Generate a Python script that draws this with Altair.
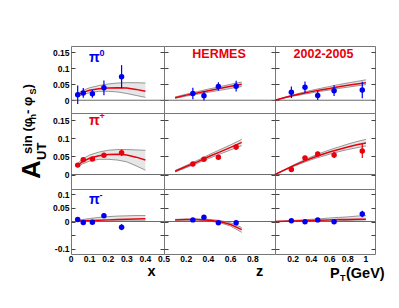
import altair as alt
import pandas as pd

RED = "#e8000c"
BLUE = "#0000f0"
BAND = "#e6e6e6"
EDGE = "#8a8a8a"
FRAME = "#777777"
ZERO = "#6a6a6a"
TICK = "#444444"
FONT = "Liberation Sans"

# ---- kinematic bins (bin centres) ----
X_BINS = [0.036, 0.066, 0.115, 0.177, 0.272]
Z_BINS = [0.26, 0.36, 0.49, 0.65]
PT_BINS = [0.18, 0.33, 0.47, 0.65, 0.96]

# ---- measured asymmetries and errors ----
PI0_X = [0.017, 0.023, 0.020, 0.039, 0.074]
PI0_X_ERR = [0.029, 0.015, 0.012, 0.023, 0.036]
PI0_Z = [0.021, 0.014, 0.043, 0.044]
PI0_Z_ERR = [0.018, 0.015, 0.013, 0.017]
PI0_PT = [0.025, 0.041, 0.015, 0.030, 0.032]
PI0_PT_ERR = [0.018, 0.018, 0.014, 0.017, 0.026]

PIP_X = [0.026, 0.041, 0.043, 0.053, 0.060]
PIP_X_ERR = [0.005, 0.005, 0.005, 0.006, 0.009]
PIP_Z = [0.029, 0.0425, 0.048, 0.076]
PIP_Z_ERR = [0.004, 0.005, 0.006, 0.008]
PIP_PT = [0.014, 0.046, 0.057, 0.054, 0.065]
PIP_PT_ERR = [0.005, 0.005, 0.006, 0.008, 0.019]

PIM_X = [0.007, -0.004, -0.003, 0.021, -0.021]
PIM_X_ERR = [0.006, 0.006, 0.006, 0.008, 0.011]
PIM_Z = [0.006, 0.016, -0.005, -0.005]
PIM_Z_ERR = [0.005, 0.006, 0.007, 0.009]
PIM_PT = [0.003, -0.001, 0.006, -0.001, 0.028]
PIM_PT_ERR = [0.005, 0.005, 0.006, 0.007, 0.012]

# ---- model curves (central value and band) ----
X_GRID = [0.035, 0.06, 0.1, 0.15, 0.2, 0.25, 0.3, 0.35, 0.4]
PI0_X_MID = [0.016, 0.024, 0.031, 0.036, 0.038, 0.039, 0.038, 0.034, 0.028]
PI0_X_HI = [0.021, 0.030, 0.039, 0.046, 0.051, 0.054, 0.055, 0.055, 0.054]
PI0_X_LO = [0.011, 0.017, 0.024, 0.028, 0.028, 0.026, 0.021, 0.015, 0.009]
PIP_X_MID = [0.025, 0.035, 0.045, 0.052, 0.055, 0.056, 0.054, 0.048, 0.040]
PIP_X_HI = [0.030, 0.042, 0.054, 0.062, 0.067, 0.069, 0.069, 0.068, 0.067]
PIP_X_LO = [0.020, 0.029, 0.037, 0.042, 0.042, 0.040, 0.035, 0.024, 0.012]
PIM_X_MID = [0.002, 0.003, 0.004, 0.005, 0.006, 0.007, 0.008, 0.009, 0.010]
PIM_X_HI = [0.004, 0.007, 0.011, 0.015, 0.018, 0.020, 0.021, 0.022, 0.022]
PIM_X_LO = [0.000, 0.001, 0.002, 0.002, 0.002, 0.002, 0.002, 0.002, 0.002]

Z_GRID = [0.1, 0.2, 0.3, 0.4, 0.5, 0.6, 0.7]
PI0_Z_MID = [0.008, 0.016, 0.023, 0.030, 0.037, 0.044, 0.050]
PI0_Z_HI = [0.010, 0.019, 0.027, 0.035, 0.042, 0.050, 0.057]
PI0_Z_LO = [0.006, 0.013, 0.019, 0.025, 0.031, 0.037, 0.043]
PIP_Z_MID = [0.009, 0.022, 0.035, 0.049, 0.062, 0.075, 0.089]
PIP_Z_HI = [0.011, 0.025, 0.039, 0.054, 0.068, 0.082, 0.097]
PIP_Z_LO = [0.007, 0.019, 0.031, 0.044, 0.056, 0.068, 0.080]
PIM_Z_MID = [0.006, 0.007, 0.007, 0.005, 0.000, -0.011, -0.030]
PIM_Z_HI = [0.008, 0.009, 0.009, 0.008, 0.004, -0.005, -0.022]
PIM_Z_LO = [0.004, 0.005, 0.005, 0.002, -0.004, -0.017, -0.040]

PT_GRID = [0.0, 0.1, 0.2, 0.3, 0.4, 0.5, 0.6, 0.7, 0.8, 0.9, 1.0]
PI0_PT_MID = [0.000, 0.008, 0.015, 0.021, 0.027, 0.032, 0.037, 0.042, 0.047, 0.051, 0.055]
PI0_PT_HI = [0.000, 0.009, 0.017, 0.024, 0.031, 0.037, 0.043, 0.049, 0.054, 0.059, 0.064]
PI0_PT_LO = [0.000, 0.007, 0.013, 0.018, 0.023, 0.028, 0.032, 0.037, 0.041, 0.045, 0.049]
PIP_PT_MID = [0.000, 0.012, 0.024, 0.035, 0.045, 0.054, 0.062, 0.069, 0.076, 0.082, 0.087]
PIP_PT_HI = [0.000, 0.013, 0.026, 0.038, 0.049, 0.059, 0.068, 0.076, 0.084, 0.091, 0.097]
PIP_PT_LO = [0.000, 0.011, 0.022, 0.032, 0.041, 0.049, 0.056, 0.063, 0.069, 0.074, 0.079]
PIM_PT_MID = [0.000, 0.001, 0.002, 0.003, 0.004, 0.005, 0.006, 0.007, 0.0075, 0.008, 0.0085]
PIM_PT_HI = [0.000, 0.002, 0.004, 0.006, 0.008, 0.010, 0.013, 0.015, 0.017, 0.020, 0.022]
PIM_PT_LO = [0.000, 0.000, 0.001, 0.001, 0.002, 0.002, 0.003, 0.003, 0.004, 0.005, 0.006]

# ---- axis ticks and tick labels ----
X_TICKS = [0, 0.1, 0.2, 0.3, 0.4, 0.5]
X_TICK_LABELS = ["0", "0.1", "0.2", "0.3", "0.4", "0.5"]
Z_TICKS = [0.2, 0.4, 0.6, 0.8]
Z_TICK_LABELS = ["0.2", "0.4", "0.6", "0.8"]
PT_TICKS = [0.2, 0.4, 0.6, 0.8, 1]
PT_TICK_LABELS = ["0.2", "0.4", "0.6", "0.8", "1"]
Y_TICKS_TOP = [0, 0.05, 0.1, 0.15]
Y_TICKS_BOTTOM = [-0.1, -0.05, 0, 0.05, 0.1]

COLS = [
    dict(bins=X_BINS, grid=X_GRID, domain=[0, 0.5], ticks=X_TICKS, labels=X_TICK_LABELS, width=93),
    dict(bins=Z_BINS, grid=Z_GRID, domain=[0, 1.0], ticks=Z_TICKS, labels=Z_TICK_LABELS, width=111),
    dict(bins=PT_BINS, grid=PT_GRID, domain=[0, 1.1], ticks=PT_TICKS, labels=PT_TICK_LABELS, width=100),
]
ROWS = [
    dict(domain=[-0.04, 0.17], ticks=Y_TICKS_TOP, height=67, color=BLUE,
         fmt="'' + datum.value",
         pts=[(PI0_X, PI0_X_ERR), (PI0_Z, PI0_Z_ERR), (PI0_PT, PI0_PT_ERR)],
         curves=[(PI0_X_MID, PI0_X_HI, PI0_X_LO), (PI0_Z_MID, PI0_Z_HI, PI0_Z_LO),
                 (PI0_PT_MID, PI0_PT_HI, PI0_PT_LO)]),
    dict(domain=[-0.04, 0.17], ticks=Y_TICKS_TOP, height=76, color=RED,
         fmt="'' + datum.value",
         pts=[(PIP_X, PIP_X_ERR), (PIP_Z, PIP_Z_ERR), (PIP_PT, PIP_PT_ERR)],
         curves=[(PIP_X_MID, PIP_X_HI, PIP_X_LO), (PIP_Z_MID, PIP_Z_HI, PIP_Z_LO),
                 (PIP_PT_MID, PIP_PT_HI, PIP_PT_LO)]),
    dict(domain=[-0.12, 0.12], ticks=Y_TICKS_BOTTOM, height=65, color=BLUE,
         fmt="datum.value == -0.05 ? '' : '' + datum.value",
         pts=[(PIM_X, PIM_X_ERR), (PIM_Z, PIM_Z_ERR), (PIM_PT, PIM_PT_ERR)],
         curves=[(PIM_X_MID, PIM_X_HI, PIM_X_LO), (PIM_Z_MID, PIM_Z_HI, PIM_Z_LO),
                 (PIM_PT_MID, PIM_PT_HI, PIM_PT_LO)]),
]


def text(t, x, y, size, color="black", angle=0, align="left", baseline="alphabetic",
         weight="bold", font=FONT):
    return alt.Chart(pd.DataFrame({"t": [t]})).mark_text(
        align=align, baseline=baseline, angle=angle, fontSize=size,
        fontWeight=weight, font=font, color=color,
    ).encode(x=alt.value(x), y=alt.value(y), text="t:N")


def panel(ri, ci):
    row, col = ROWS[ri], COLS[ci]
    xs = alt.Scale(domain=col["domain"], nice=False, zero=False)
    ys = alt.Scale(domain=row["domain"], nice=False, zero=False)
    lab = dict(labelFont=FONT, labelFontSize=8.5, labelFontWeight="bold",
               labelColor="black", labelFlush=False, labelOverlap=False)
    xaxis = alt.Axis(orient="bottom", values=col["ticks"], offset=-4, tickSize=4,
                     tickColor=TICK, domain=False, grid=False, title=None, labels=False)
    yleft = alt.Axis(orient="left", values=row["ticks"], offset=-4, tickSize=4,
                     tickColor=TICK, domain=False, grid=False, title=None,
                     labels=(ci == 0), labelExpr=row["fmt"], labelPadding=2, **lab)
    yright = alt.Axis(orient="right", values=row["ticks"], offset=-4, tickSize=4,
                      tickColor=TICK, domain=False, grid=False, title=None, labels=False)

    mid, hi, lo = row["curves"][ci]
    vals, errs = row["pts"][ci]
    cdf = pd.DataFrame({"v": col["grid"], "mid": mid, "hi": hi, "lo": lo})
    pdf = pd.DataFrame({"v": col["bins"], "a": vals, "e": errs})
    c = row["color"]

    X = lambda f, ax=None: alt.X(f, scale=xs, axis=ax)
    Y = lambda f, ax=None: alt.Y(f, scale=ys, axis=ax)

    layers = [
        alt.Chart(cdf).mark_area(color=BAND, opacity=1).encode(
            x=X("v:Q", xaxis), y=Y("lo:Q", yleft), y2="hi:Q"),
        alt.Chart(cdf).mark_line(color=EDGE, strokeWidth=0.9).encode(x=X("v:Q"), y=Y("hi:Q")),
        alt.Chart(cdf).mark_line(color=EDGE, strokeWidth=0.9).encode(x=X("v:Q"), y=Y("lo:Q")),
        alt.Chart(pd.DataFrame({"y": [0.0]})).mark_rule(color=ZERO, strokeWidth=1).encode(
            y=Y("y:Q", yright)),
        alt.Chart(cdf).mark_line(color=RED, strokeWidth=1.5).encode(x=X("v:Q"), y=Y("mid:Q")),
        alt.Chart(pdf).transform_calculate(
            elo="datum.a - datum.e", ehi="datum.a + datum.e"
        ).mark_rule(color=c, strokeWidth=1.2).encode(x=X("v:Q"), y=Y("elo:Q"), y2="ehi:Q"),
        alt.Chart(pdf).mark_circle(size=30, color=c, opacity=1).encode(x=X("v:Q"), y=Y("a:Q")),
    ]

    if ri == 2:
        # x tick labels, placed through the x scale
        tdf = pd.DataFrame({"v": col["ticks"], "lab": col["labels"]})
        layers.append(alt.Chart(tdf).mark_text(
            baseline="top", align="center", font=FONT, fontSize=8.5, fontWeight="bold",
            color="black").encode(x=X("v:Q"), y=alt.value(row["height"] + 1), text="lab:N"))

    if ci == 0:
        lbl_y = [16, 12, 15][ri]
        layers.append(text("\u03c0", 18, lbl_y, 14, c))
        layers.append(text(["0", "+", "-"][ri], 28.5, lbl_y - 6, 9, c))
    if ri == 0 and ci == 0:
        # invisible anchor fixing the page position of the grid
        layers.append(alt.Chart(pd.DataFrame({"a": [0]})).mark_rule(opacity=0).encode(
            x=alt.value(-62), y=alt.value(-37), y2=alt.value(-36)))
    if ri == 0 and ci == 1:
        layers.append(text("HERMES", 55, 12, 12.5, RED, align="center"))
    if ri == 0 and ci == 2:
        layers.append(text("2002-2005", 48.5, 12, 12.5, RED, align="center"))
    if ri == 1 and ci == 0:
        # y title  A_UT^{sin(phi_h - phi_S)}
        layers += [
            text("A", -31, 66, 26, angle=270),
            text("UT", -25, 47, 13, angle=270),
            text("sin (\u03c6", -39, 41, 13, angle=270),
            text("h", -35.5, 6.4, 9, angle=270),
            text(" - \u03c6", -39, 0.9, 13, angle=270),
            text("S", -35.5, -18.5, 9, angle=270),
            text(")", -39, -24.5, 13, angle=270),
        ]
    if ri == 2 and ci == 0:
        layers.append(text("x", 76.5, 87, 14.5))
    if ri == 2 and ci == 1:
        layers.append(text("z", 92, 87, 14.5))
    if ri == 2 and ci == 2:
        layers += [
            text("P", 55, 88.5, 14.5),
            text("T", 65, 91.5, 9),
            text("(GeV)", 71, 88.5, 14.5),
        ]

    return alt.layer(*layers).resolve_axis(y="independent").properties(
        width=col["width"], height=row["height"])


panels = [panel(r, c) for r in range(3) for c in range(3)]

chart = alt.concat(*panels, columns=3, spacing=0, bounds="flush").properties(
    padding={"left": 0, "top": 0, "right": 0, "bottom": 0}
).configure_view(stroke=FRAME, strokeWidth=1)

chart.save("out.html", embed_options={"renderer": "svg", "actions": False})
